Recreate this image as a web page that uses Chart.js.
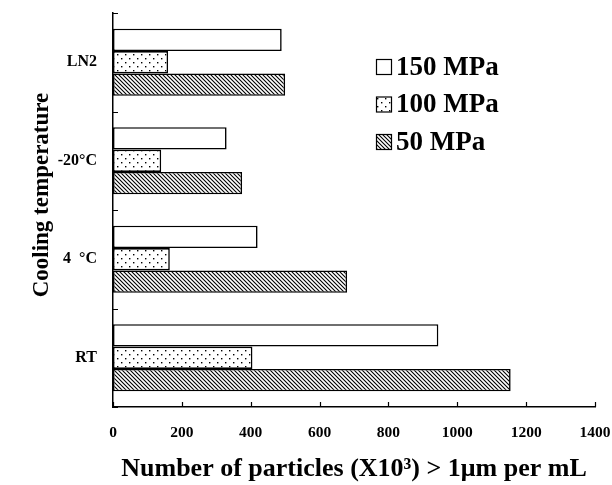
<!DOCTYPE html>
<html>
<head>
<meta charset="utf-8">
<script src="https://cdn.jsdelivr.net/npm/chart.js"></script>
<style>
  html, body { margin: 0; padding: 0; background: #fff; }
  #wrap { width: 612px; height: 485px; }
</style>
</head>
<body>
<div id="wrap"><canvas id="particleChart"></canvas></div>
<script>
// --- Data ---
const categories = ['LN2', '-20°C', '4  °C', 'RT'];
const seriesLabels = ['150 MPa', '100 MPa', '50 MPa'];
const values150 = [490, 330, 420, 945];
const values100 = [160, 140, 165, 405];
const values50 = [500, 375, 680, 1155];
const xTicks = [0, 200, 400, 600, 800, 1000, 1200, 1400];
const yTitle = 'Cooling temperature';
const xTitle = 'Number of particles (X10³) > 1μm per mL';

const serif = "'Liberation Serif', 'Times New Roman', serif";

// fill patterns: plain white, sparse dots, diagonal hatch
function dotPattern() {
    const c = document.createElement('canvas');
    c.width = 8; c.height = 8;
    const g = c.getContext('2d');
    g.fillStyle = '#fff';
    g.fillRect(0, 0, 8, 8);
    g.fillStyle = '#000';
    g.fillRect(1, 2, 1.4, 1.4);
    g.fillRect(5, 6, 1.4, 1.4);
    return g.createPattern(c, 'repeat');
}
function hatchPattern() {
    const c = document.createElement('canvas');
    c.width = 4; c.height = 4;
    const g = c.getContext('2d');
    g.fillStyle = '#fff';
    g.fillRect(0, 0, 4, 4);
    g.strokeStyle = '#000';
    g.lineWidth = 1.1;
    g.beginPath();
    g.moveTo(-1, -1); g.lineTo(5, 5);
    g.moveTo(-1, 3); g.lineTo(1, 5);
    g.moveTo(3, -1); g.lineTo(5, 1);
    g.stroke();
    return g.createPattern(c, 'repeat');
}
const fills = ['#ffffff', dotPattern(), hatchPattern()];

// inward tick marks on both axes, like the original figure
const inwardTicks = {
    id: 'inwardTicks',
    afterDatasetsDraw(chart) {
        const { ctx, scales: { x, y }, chartArea } = chart;
        ctx.save();
        ctx.strokeStyle = '#000';
        ctx.lineWidth = 1.2;
        ctx.beginPath();
        xTicks.forEach(v => {
            const px = Math.round(x.getPixelForValue(v)) + 0.5;
            ctx.moveTo(px, chartArea.bottom);
            ctx.lineTo(px, chartArea.bottom - 5);
        });
        for (let i = 0; i <= categories.length; i++) {
            const py = Math.round(y.getPixelForValue(i - 0.5)) + 0.5;
            ctx.moveTo(chartArea.left, py);
            ctx.lineTo(chartArea.left + 5, py);
        }
        ctx.stroke();
        ctx.restore();
    }
};

// legend inside the plot + the vertical axis title (sits a bit above centre)
const extras = {
    id: 'extras',
    afterDraw(chart) {
        const { ctx, chartArea } = chart;
        const x0 = chartArea.left + 263;
        const y0 = chartArea.top + 54;
        const gap = 37.5;
        ctx.save();
        ctx.font = 'bold 27px ' + serif;
        ctx.textBaseline = 'middle';
        chart.data.datasets.forEach((ds, i) => {
            const cy = y0 + i * gap;
            ctx.fillStyle = ds.backgroundColor;
            ctx.fillRect(x0, cy - 8, 16, 16);
            ctx.strokeStyle = '#000';
            ctx.lineWidth = 1.2;
            ctx.strokeRect(x0 + 0.5, cy - 7.5, 15, 15);
            ctx.fillStyle = '#000';
            ctx.fillText(ds.label, x0 + 20, cy + 1);
        });

        ctx.translate(48, chartArea.top + 182);
        ctx.rotate(-Math.PI / 2);
        ctx.font = 'bold 23px ' + serif;
        ctx.textAlign = 'center';
        ctx.textBaseline = 'alphabetic';
        ctx.fillText(yTitle, 0, 0);
        ctx.restore();
    }
};

new Chart(document.getElementById('particleChart'), {
    type: 'bar',
    data: {
        labels: categories,
        datasets: [values150, values100, values50].map((vals, i) => ({
            label: seriesLabels[i],
            data: vals,
            backgroundColor: fills[i],
            borderColor: '#000',
            borderWidth: 1.6,
            borderSkipped: false,
            categoryPercentage: 0.68,
            barPercentage: 1.0
        }))
    },
    options: {
        indexAxis: 'y',
        responsive: true,
        maintainAspectRatio: false,
        animation: false,
        layout: { padding: { top: 13, right: 17, left: 0, bottom: 0 } },
        plugins: {
            legend: { display: false },
            tooltip: { enabled: false }
        },
        scales: {
            x: {
                type: 'linear',
                min: 0,
                max: 1400,
                afterBuildTicks: s => { s.ticks = xTicks.map(v => ({ value: v })); },
                afterFit: s => { s.height = 78; s.paddingLeft = 0; s.paddingRight = 0; },
                grid: { display: false },
                border: { display: true, color: '#000', width: 1.5 },
                ticks: {
                    color: '#000',
                    padding: 9,
                    callback: v => String(v),
                    font: { family: serif, weight: 'bold', size: 15.5 }
                },
                title: {
                    display: true,
                    text: xTitle,
                    color: '#000',
                    font: { family: serif, weight: 'bold', size: 26 },
                    padding: { top: 4, bottom: 0 }
                }
            },
            y: {
                afterFit: s => { s.width = 113; s.paddingTop = 0; s.paddingBottom = 0; },
                grid: { display: false },
                border: { display: true, color: '#000', width: 1.5 },
                ticks: {
                    color: '#000',
                    padding: 8,
                    font: { family: serif, weight: 'bold', size: 16 }
                }
            }
        }
    },
    plugins: [inwardTicks, extras]
});
</script>
</body>
</html>
